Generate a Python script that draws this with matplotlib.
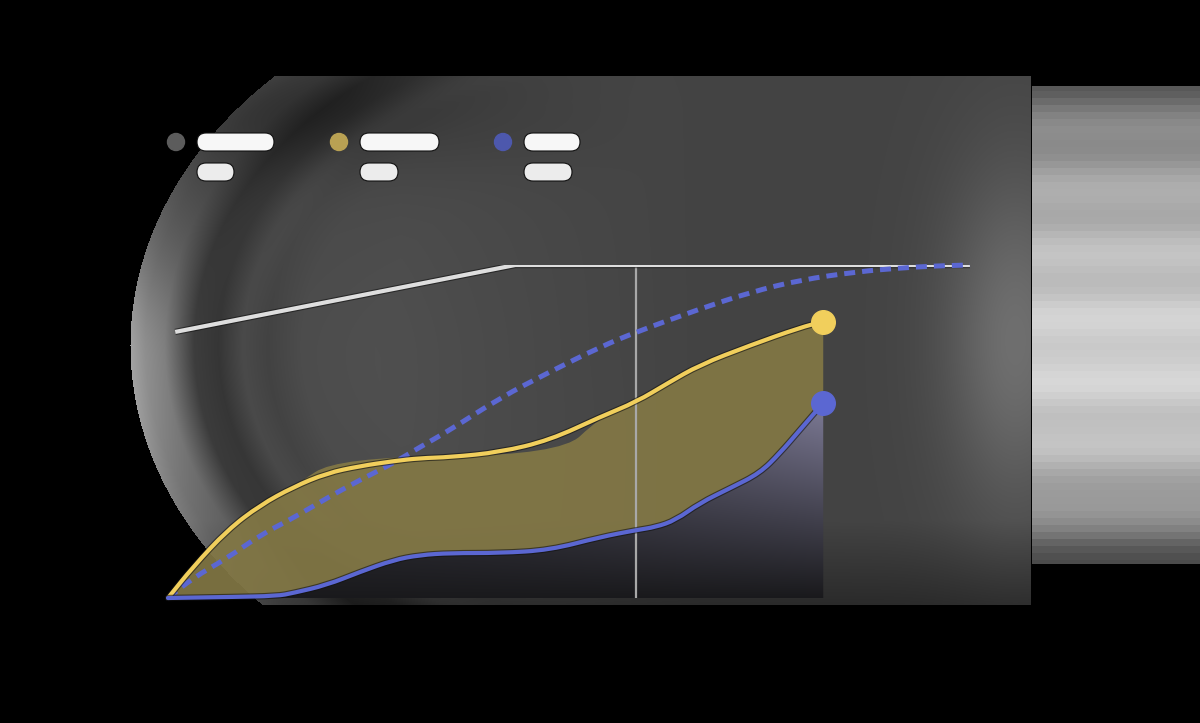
import numpy as np
import matplotlib
matplotlib.use("Agg")
import matplotlib.pyplot as plt
from matplotlib.patches import FancyBboxPatch, Circle, PathPatch
from matplotlib.path import Path
import matplotlib.patheffects as pe

# series (x: 0..100 across the plot, y: 0..100 up to the ceiling line)
ceiling_x = [0.9, 43.3, 100.0]
ceiling_y = [79.9, 100.0, 100.0]

target_x = [0.0, 3.1, 7.4, 11.5, 15.6, 19.8, 23.9, 28.1, 31.4, 35.2, 41.4, 47.6, 53.9, 58.4, 66.3, 72.6, 78.8, 86.0, 91.3, 95.5, 100.0]
target_y = [0.0, 6.0, 12.0, 18.9, 24.0, 30.0, 35.4, 40.5, 45.3, 50.5, 60.1, 67.9, 75.4, 79.9, 86.8, 91.8, 95.5, 98.0, 99.1, 99.7, 100.0]

gold_x = [0.0, 3.1, 7.4, 11.5, 15.6, 19.8, 23.9, 28.1, 31.4, 35.2, 41.4, 47.6, 53.9, 58.4, 62.3, 66.3, 72.6, 78.8, 81.7]
gold_y = [0.0, 9.3, 20.4, 27.9, 33.3, 37.5, 39.6, 41.1, 42.0, 42.3, 43.8, 47.4, 54.4, 58.9, 64.5, 70.0, 75.9, 81.2, 83.0]

blue_x = [0.0, 7.7, 13.6, 15.6, 19.8, 23.9, 28.1, 31.4, 35.2, 41.4, 47.6, 53.9, 58.4, 60.8, 63.3, 66.3, 70.1, 73.8, 76.3, 78.8, 81.7]
blue_y = [0.0, 0.3, 0.6, 1.5, 3.9, 7.8, 11.4, 12.9, 13.5, 13.5, 14.4, 18.3, 20.4, 21.3, 23.4, 28.5, 33.0, 37.5, 43.5, 50.5, 58.6]

band_x = [0.0, 3.1, 7.4, 11.5, 15.6, 21.1, 48.9, 53.9, 58.4, 62.3, 66.3, 72.6, 78.8, 81.7]
band_y = [0.0, 9.3, 20.4, 27.9, 33.3, 42.3, 42.9, 54.4, 58.9, 64.5, 70.0, 75.9, 81.2, 83.0]

marker_x = 81.7
now_x = 58.4

legend_colors = ["#5c5c5c", "#b9a153", "#4d58ad"]
legend_dot_x = [176, 339, 503]
legend_bar_w1 = [77, 79, 56]
legend_bar_w2 = [37, 38, 48]

GOLD = "#f1cf5c"
BLUE = "#5b67d2"


def smooth_parts(xs, ys, start_code=Path.MOVETO):
    # quadratic bezier through midpoints, so matplotlib draws a rounded line
    pts = list(zip(xs, ys))
    verts = [pts[0]]
    codes = [start_code]
    if len(pts) > 2:
        for i in range(1, len(pts) - 1):
            m = ((pts[i][0] + pts[i + 1][0]) / 2, (pts[i][1] + pts[i + 1][1]) / 2)
            if i == 1:
                m0 = ((pts[0][0] + pts[1][0]) / 2, (pts[0][1] + pts[1][1]) / 2)
                verts.append(m0)
                codes.append(Path.LINETO)
            verts += [pts[i], m]
            codes += [Path.CURVE3, Path.CURVE3]
    verts.append(pts[-1])
    codes.append(Path.LINETO)
    return verts, codes


def smooth_path(xs, ys):
    v, c = smooth_parts(xs, ys)
    return Path(v, c)


# ---- background picture ----
H, W = 723, 1200
yy, xx = np.mgrid[0:H, 0:W].astype(float)
img = np.zeros((H, W, 3))

r = np.sqrt(((xx - 620) / 490) ** 2 + ((yy - 345) / 380) ** 2)
panel = ((r <= 1.0) | (xx >= 620)) & (yy >= 76) & (yy <= 604) & (xx <= 1030)
base = 0.29
rk = [0.0, 0.5, 0.65, 0.72, 0.77, 0.82, 0.87, 0.90, 0.93, 0.97, 1.0]
vk = [0.30, 0.31, 0.30, 0.26, 0.29, 0.21, 0.24, 0.37, 0.50, 0.56, 0.64]
wy = np.where(yy < 360, np.exp(-((yy - 360) / 120) ** 2), np.exp(-((yy - 360) / 190) ** 2))
left_prof = base + (np.interp(r, rk, vk) - base) * (0.25 + 0.75 * wy)
left_prof -= 0.08 * (1 - wy) * np.clip((r - 0.75) / 0.12, 0, 1)
left_w = np.clip((700 - xx) / 300, 0, 1)
v = left_w * left_prof + (1 - left_w) * 0.265
v += 0.17 * np.exp(-((xx - 1015) / 70) ** 2) * np.exp(-((yy - 340) / 170) ** 2)
v -= 0.07 * np.exp(-((yy - 110) / 60) ** 2) * np.clip((650 - xx) / 300, 0, 1)
v -= 0.10 * np.clip((yy - 520) / 85, 0, 1)
v = np.clip(v, 0, 1)
for c in range(3):
    img[..., c] = np.where(panel, v, 0.0)

# striped strip on the right
key_y = [86, 130, 200, 280, 350, 420, 480, 530, 563]
key_v = [0.38, 0.55, 0.68, 0.77, 0.83, 0.78, 0.66, 0.48, 0.28]
band = (yy // 7) * 7
sv = np.interp(band, key_y, key_v)
sv += 0.035 * np.sin(band * 1.7)
strip = (xx >= 1032) & (yy >= 86) & (yy <= 563)
for c in range(3):
    img[..., c] = np.where(strip, np.clip(sv, 0, 1), img[..., c])

fig = plt.figure(figsize=(12, 7.23), dpi=100, facecolor="black")
ax_bg = fig.add_axes([0, 0, 1, 1])
ax_bg.imshow(img, extent=[0, W, H, 0], interpolation="bilinear")
ax_bg.set_xlim(0, W)
ax_bg.set_ylim(H, 0)
ax_bg.axis("off")

# legend: coloured dot + redacted label bars
for cx, col, w1, w2 in zip(legend_dot_x, legend_colors, legend_bar_w1, legend_bar_w2):
    ax_bg.add_patch(Circle((cx, 142), 8.5, color=col))
    ax_bg.add_patch(FancyBboxPatch((cx + 21, 133), w1, 18,
                                   boxstyle="round,pad=0,rounding_size=9",
                                   fc="#f7f7f7", ec="#111111", lw=0.8))
    ax_bg.add_patch(FancyBboxPatch((cx + 21, 163), w2, 18,
                                   boxstyle="round,pad=0,rounding_size=9",
                                   fc="#ececec", ec="#111111", lw=0.8))

# ---- chart ----
ax = fig.add_axes([168 / W, 125 / H, 802 / W, 333 / H])
ax.set_facecolor("none")
ax.set_xlim(0, 100)
ax.set_ylim(0, 100)
ax.axis("off")

# olive band between gold edge and blue line
v1, c1 = smooth_parts(band_x, band_y)
v2, c2 = smooth_parts(blue_x[::-1], blue_y[::-1], Path.LINETO)
band_path = Path(v1 + v2 + [(0, 0)], c1 + c2 + [Path.CLOSEPOLY])
ax.add_patch(PathPatch(band_path, fc="#837845", ec="none", alpha=0.92, zorder=2))

# purple-grey gradient under the blue line
v3, c3 = smooth_parts(blue_x, blue_y)
under_path = Path(v3 + [(marker_x, 0), (0, 0)], c3 + [Path.LINETO, Path.CLOSEPOLY])
gy = np.linspace(1, 0, 200)[:, None]
gx = np.linspace(0, 1, 200)[None, :]
t = gy * (0.35 + 0.65 * gx ** 1.5)
lo = np.array([0.10, 0.10, 0.11])
hi = np.array([0.50, 0.49, 0.60])
grad = lo + (hi - lo) * t[..., None]
im = ax.imshow(grad, extent=[0, marker_x, 0, 60], aspect="auto", zorder=2,
               interpolation="bilinear")
im.set_clip_path(under_path, transform=ax.transData)

outline = [pe.Stroke(linewidth=4.6, foreground="#111111", alpha=0.6), pe.Normal()]

ax.plot([now_x, now_x], [0, 100], color="#a8a8a8", lw=1.6, zorder=3)
ax.plot(ceiling_x, ceiling_y, color="#dedede", lw=3.0, solid_capstyle="butt",
        zorder=4, path_effects=outline)
ax.add_patch(PathPatch(smooth_path(target_x, target_y), fc="none", ec=BLUE, lw=3.6,
                       ls=(0, (2.2, 1.4)), zorder=5, clip_on=False))
ax.add_patch(PathPatch(smooth_path(gold_x, gold_y), fc="none", ec=GOLD, lw=3.0,
                       joinstyle="round", capstyle="round", zorder=6,
                       path_effects=outline, clip_on=False))
ax.add_patch(PathPatch(smooth_path(blue_x, blue_y), fc="none", ec=BLUE, lw=3.0,
                       joinstyle="round", capstyle="round", zorder=6,
                       path_effects=outline, clip_on=False))
ax.plot([marker_x], [gold_y[-1]], "o", ms=17, color=GOLD, zorder=7, clip_on=False)
ax.plot([marker_x], [blue_y[-1]], "o", ms=17, color=BLUE, zorder=7, clip_on=False)

fig.savefig("out.png", dpi=100, facecolor="black")
